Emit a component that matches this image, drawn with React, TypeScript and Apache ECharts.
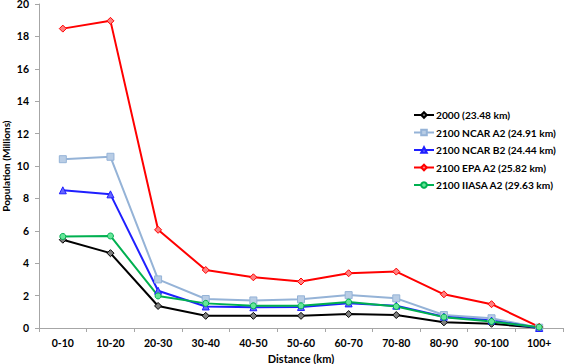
import React, { useEffect, useRef } from "react";
import * as echarts from "echarts";

const categories = ["0-10", "10-20", "20-30", "30-40", "40-50", "50-60", "60-70", "70-80", "80-90", "90-100", "100+"];
const yTicks = { min: 0, max: 20, interval: 2 };

const s2000 = [5.45, 4.62, 1.36, 0.75, 0.75, 0.75, 0.86, 0.8, 0.35, 0.26, 0.02];
const sNcarA2 = [10.42, 10.57, 3.0, 1.79, 1.7, 1.77, 2.03, 1.83, 0.8, 0.6, 0.02];
const sNcarB2 = [8.5, 8.25, 2.3, 1.33, 1.28, 1.3, 1.52, 1.38, 0.7, 0.46, 0.0];
const sEpaA2 = [18.48, 18.96, 6.06, 3.58, 3.13, 2.87, 3.38, 3.48, 2.08, 1.47, 0.07];
const sIiasaA2 = [5.65, 5.68, 1.98, 1.52, 1.37, 1.37, 1.6, 1.33, 0.67, 0.4, 0.05];

const seriesDefs = [
  { name: "2000 (23.48 km)", data: s2000, line: "#000000", fill: "#7f7f7f", symbol: "diamond", size: 7 },
  { name: "2100 NCAR A2 (24.91 km)", data: sNcarA2, line: "#95b3d7", fill: "#b9cde5", symbol: "rect", size: 7 },
  { name: "2100 NCAR B2 (24.44 km)", data: sNcarB2, line: "#1f1fff", fill: "#6666ff", symbol: "triangle", size: 7 },
  { name: "2100 EPA A2 (25.82 km)", data: sEpaA2, line: "#ff0000", fill: "#ff8080", symbol: "diamond", size: 7 },
  { name: "2100 IIASA A2 (29.63 km)", data: sIiasaA2, line: "#00b050", fill: "#66e699", symbol: "circle", size: 6 },
];

const FONT = "Lato, 'Open Sans', sans-serif";

export default function App() {
  const ref = useRef<HTMLDivElement>(null);
  useEffect(() => {
    if (!ref.current) return;
    const chart = echarts.init(ref.current, undefined, { renderer: "svg" });
    chart.setOption({
      animation: false,
      backgroundColor: "#ffffff",
      textStyle: { fontFamily: FONT },
      grid: { left: 39, right: 1, top: 4, bottom: 36, outerBoundsMode: "none", containLabel: false },
      legend: {
        orient: "vertical",
        left: 408,
        top: 103,
        itemWidth: 20,
        itemHeight: 7,
        itemGap: 3.5,
        textStyle: { fontFamily: FONT, fontWeight: "bold", fontSize: 10.2, color: "#000", lineHeight: 14, padding: [0, 0, 0, -3] },
        data: seriesDefs.map((s) => s.name),
      },
      xAxis: {
        type: "category",
        data: categories,
        boundaryGap: true,
        name: "Distance (km)",
        nameLocation: "middle",
        nameGap: 25,
        nameMoveOverlap: false,
        nameTextStyle: { fontFamily: FONT, fontWeight: "bold", fontSize: 11, color: "#000" },
        axisLine: { lineStyle: { color: "#a6a6a6", width: 1 } },
        axisTick: { show: true, alignWithLabel: false, interval: 0, length: 4, lineStyle: { color: "#a6a6a6" } },
        axisLabel: { interval: 0, fontFamily: FONT, fontWeight: "bold", fontSize: 10.5, color: "#000", margin: 9 },
        splitLine: { show: false },
      },
      yAxis: {
        type: "value",
        min: yTicks.min,
        max: yTicks.max,
        interval: yTicks.interval,
        name: "Population (Millions)",
        nameLocation: "middle",
        nameGap: 28,
        nameMoveOverlap: false,
        nameRotate: 90,
        nameTextStyle: { fontFamily: FONT, fontWeight: "bold", fontSize: 10, color: "#000" },
        axisLine: { show: true, lineStyle: { color: "#a6a6a6", width: 1 } },
        axisTick: { show: true, length: 4, lineStyle: { color: "#a6a6a6" } },
        axisLabel: { fontFamily: FONT, fontWeight: "bold", fontSize: 10.5, color: "#000", margin: 10 },
        splitLine: { show: false },
      },
      series: seriesDefs.map((s) => ({
        type: "line",
        name: s.name,
        data: s.data,
        symbol: s.symbol,
        symbolSize: s.size,
        showSymbol: true,
        lineStyle: { color: s.line, width: 2 },
        itemStyle: { color: s.fill, borderColor: s.line, borderWidth: 1 },
        emphasis: { disabled: true },
      })),
    });
    return () => chart.dispose();
  }, []);
  return <div ref={ref} style={{ position: "fixed", left: 0, top: 0, width: 564, height: 364 }} />;
}
